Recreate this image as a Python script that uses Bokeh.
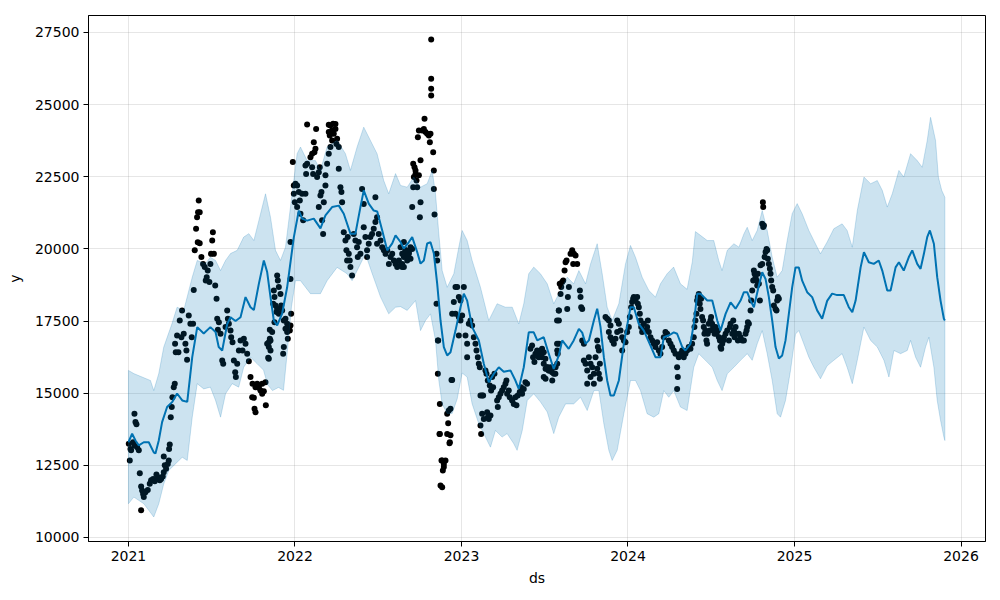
from bokeh.plotting import figure
from bokeh.models import FixedTicker, NumeralTickFormatter, Range1d
from bokeh.embed import file_html
from bokeh.resources import INLINE

# ---------------- forecast (decimal year, value) ----------------
yhat_ds = [2021.000, 2021.022, 2021.042, 2021.062, 2021.092, 2021.122, 2021.152, 2021.162, 2021.182, 2021.202,
           2021.232, 2021.262, 2021.292, 2021.323, 2021.353, 2021.383, 2021.413, 2021.452, 2021.492, 2021.523,
           2021.542, 2021.563, 2021.593, 2021.613, 2021.643, 2021.673, 2021.703, 2021.733, 2021.753, 2021.783,
           2021.813, 2021.833, 2021.853, 2021.873, 2021.893, 2021.923, 2021.953, 2021.993, 2022.023, 2022.043,
           2022.073, 2022.113, 2022.153, 2022.183, 2022.223, 2022.263, 2022.293, 2022.333, 2022.363, 2022.393,
           2022.413, 2022.443, 2022.473, 2022.494, 2022.524, 2022.554, 2022.584, 2022.604, 2022.634, 2022.653,
           2022.683, 2022.704, 2022.734, 2022.754, 2022.774, 2022.794, 2022.814, 2022.834, 2022.854, 2022.874,
           2022.894, 2022.914, 2022.934, 2022.964, 2022.994, 2023.014, 2023.034, 2023.064, 2023.104, 2023.134,
           2023.164, 2023.194, 2023.224, 2023.254, 2023.294, 2023.324, 2023.344, 2023.374, 2023.404, 2023.434,
           2023.455, 2023.494, 2023.524, 2023.554, 2023.584, 2023.605, 2023.644, 2023.674, 2023.705, 2023.725,
           2023.745, 2023.765, 2023.795, 2023.815, 2023.835, 2023.855, 2023.875, 2023.895, 2023.915, 2023.945,
           2023.975, 2024.015, 2024.035, 2024.065, 2024.095, 2024.135, 2024.165, 2024.195, 2024.215, 2024.245,
           2024.275, 2024.295, 2024.326, 2024.345, 2024.375, 2024.395, 2024.416, 2024.435, 2024.476, 2024.506,
           2024.536, 2024.556, 2024.586, 2024.616, 2024.646, 2024.676, 2024.696, 2024.716, 2024.736, 2024.756,
           2024.786, 2024.806, 2024.826, 2024.846, 2024.866, 2024.886, 2024.906, 2024.926, 2024.946, 2024.966,
           2024.986, 2025.006, 2025.026, 2025.046, 2025.076, 2025.106, 2025.136, 2025.166, 2025.196, 2025.226,
           2025.256, 2025.296, 2025.326, 2025.347, 2025.367, 2025.397, 2025.417, 2025.446, 2025.476, 2025.506,
           2025.527, 2025.557, 2025.577, 2025.607, 2025.627, 2025.656, 2025.686, 2025.707, 2025.737, 2025.757,
           2025.777, 2025.797, 2025.813, 2025.837, 2025.857, 2025.877, 2025.897, 2025.903]
yhat_y = [13300, 13600, 13360, 13190, 13300, 13300, 12950, 12910, 13360, 14000,
          14520, 14690, 14990, 14750, 14700, 16250, 17290, 17070, 17290, 17120,
          16600, 16480, 17400, 17630, 17500, 17630, 18330, 17980, 17880, 18790,
          19600, 19200, 18330, 17520, 17350, 17760, 18670, 20400, 21330, 21050,
          20980, 21050, 20710, 21160, 21450, 21500, 21220, 20530, 20530, 21450,
          22030, 21570, 21330, 21300, 20640, 19950, 20190, 20470, 20240, 20010,
          20230, 20410, 19890, 19490, 19600, 20190, 20230, 19840, 18800, 17520,
          16600, 16310, 16420, 17170, 17980, 18450, 18210, 17290, 16830, 16020,
          15380, 15670, 15900, 15740, 15790, 15440, 15150, 15900, 17110, 17110,
          16830, 16940, 16370, 15840, 16300, 16830, 16540, 16830, 17230, 17100,
          16710, 16830, 17520, 17930, 17290, 16250, 15440, 14920, 14920, 15440,
          16710, 17980, 17980, 17400, 17170, 16650, 16250, 16250, 16940, 17000,
          17110, 17060, 16600, 16480, 16710, 17400, 18450, 18450, 18210, 18210,
          17520, 17170, 17750, 18150, 17930, 18210, 18500, 18500, 18210, 17980,
          18730, 19190, 18960, 18330, 17520, 16600, 16200, 16310, 16830, 17750,
          18670, 19360, 19360, 18900, 18500, 18330, 17870, 17580, 18200, 18450,
          18400, 18400, 17980, 17810, 18210, 19360, 19890, 19540, 19480, 19600,
          19250, 18560, 18560, 19360, 19540, 19250, 19710, 19950, 19480, 19310,
          19830, 20410, 20640, 20180, 19020, 18210, 17580, 17520]

upper_ds = [2021.000, 2021.032, 2021.132, 2021.152, 2021.182, 2021.212, 2021.262, 2021.292, 2021.332, 2021.383,
            2021.413, 2021.462, 2021.492, 2021.523, 2021.553, 2021.583, 2021.613, 2021.653, 2021.692, 2021.723,
            2021.753, 2021.783, 2021.823, 2021.853, 2021.883, 2021.913, 2021.943, 2021.983, 2022.013, 2022.033,
            2022.073, 2022.123, 2022.153, 2022.193, 2022.253, 2022.303, 2022.333, 2022.373, 2022.413, 2022.453,
            2022.493, 2022.533, 2022.563, 2022.604, 2022.634, 2022.674, 2022.714, 2022.754, 2022.794, 2022.824,
            2022.844, 2022.864, 2022.884, 2022.914, 2022.954, 2022.984, 2023.004, 2023.034, 2023.064, 2023.114,
            2023.164, 2023.214, 2023.264, 2023.305, 2023.344, 2023.374, 2023.404, 2023.434, 2023.474, 2023.515,
            2023.554, 2023.595, 2023.635, 2023.674, 2023.705, 2023.745, 2023.775, 2023.815, 2023.845, 2023.875,
            2023.905, 2023.945, 2023.985, 2024.015, 2024.045, 2024.085, 2024.125, 2024.165, 2024.195, 2024.235,
            2024.274, 2024.315, 2024.355, 2024.386, 2024.405, 2024.435, 2024.476, 2024.515, 2024.545, 2024.565,
            2024.596, 2024.636, 2024.666, 2024.696, 2024.716, 2024.746, 2024.776, 2024.806, 2024.836, 2024.866,
            2024.896, 2024.926, 2024.956, 2024.986, 2025.016, 2025.046, 2025.086, 2025.116, 2025.156, 2025.196,
            2025.236, 2025.286, 2025.316, 2025.347, 2025.377, 2025.417, 2025.457, 2025.497, 2025.527, 2025.557,
            2025.587, 2025.627, 2025.656, 2025.697, 2025.737, 2025.767, 2025.797, 2025.817, 2025.847, 2025.864,
            2025.884, 2025.903]
upper_y = [15790, 15680, 15440, 15090, 15680, 16600, 17420, 17980, 17870, 19020,
           19600, 19490, 19710, 19600, 19250, 19600, 19840, 19950, 20410, 20530,
           20290, 20980, 21910, 21100, 19950, 19600, 20060, 21920, 23300, 23530,
           23060, 23060, 22720, 23530, 23760, 23300, 22720, 23530, 24220, 23760,
           23300, 22370, 21910, 22610, 22200, 22140, 22490, 22140, 22260, 22720,
           21910, 20520, 19250, 18670, 19140, 20060, 20640, 20290, 19600, 18670,
           17520, 18100, 17980, 17980, 17400, 18100, 19140, 19370, 19140, 18790,
           18100, 18560, 19020, 18790, 19250, 18790, 19480, 20180, 19140, 17980,
           17520, 18100, 19480, 20120, 19710, 19020, 18560, 18330, 18790, 19140,
           19370, 18790, 18600, 19550, 20600, 20470, 20290, 20290, 19600, 19250,
           19950, 20180, 20060, 20520, 20750, 20290, 20640, 21330, 20640, 19710,
           19020, 19250, 20290, 21220, 21570, 21220, 20640, 20290, 19830, 20240,
           20700, 20870, 20640, 20060, 21330, 22490, 22260, 22370, 22030, 21450,
           21910, 22720, 22490, 23300, 23060, 22830, 23760, 24560, 23760, 22490,
           22030, 21790]

lower_ds = [2021.000, 2021.032, 2021.092, 2021.122, 2021.152, 2021.182, 2021.212, 2021.242, 2021.282, 2021.323,
            2021.353, 2021.383, 2021.413, 2021.452, 2021.492, 2021.523, 2021.553, 2021.583, 2021.623, 2021.662,
            2021.692, 2021.733, 2021.773, 2021.811, 2021.835, 2021.865, 2021.901, 2021.931, 2021.955, 2021.979,
            2022.003, 2022.033, 2022.093, 2022.153, 2022.193, 2022.253, 2022.313, 2022.343, 2022.383, 2022.423,
            2022.464, 2022.514, 2022.563, 2022.604, 2022.634, 2022.674, 2022.724, 2022.754, 2022.784, 2022.814,
            2022.844, 2022.864, 2022.884, 2022.914, 2022.944, 2022.974, 2023.004, 2023.034, 2023.064, 2023.104,
            2023.144, 2023.174, 2023.204, 2023.244, 2023.274, 2023.314, 2023.334, 2023.365, 2023.395, 2023.434,
            2023.474, 2023.515, 2023.554, 2023.584, 2023.625, 2023.674, 2023.715, 2023.755, 2023.795, 2023.825,
            2023.855, 2023.885, 2023.905, 2023.935, 2023.975, 2024.015, 2024.045, 2024.075, 2024.115, 2024.155,
            2024.185, 2024.215, 2024.245, 2024.275, 2024.315, 2024.355, 2024.395, 2024.425, 2024.465, 2024.506,
            2024.536, 2024.565, 2024.596, 2024.636, 2024.676, 2024.716, 2024.746, 2024.776, 2024.806, 2024.836,
            2024.866, 2024.896, 2024.916, 2024.946, 2024.976, 2025.006, 2025.026, 2025.056, 2025.086, 2025.116,
            2025.156, 2025.196, 2025.236, 2025.286, 2025.316, 2025.347, 2025.377, 2025.417, 2025.457, 2025.497,
            2025.537, 2025.567, 2025.597, 2025.637, 2025.677, 2025.697, 2025.727, 2025.757, 2025.787, 2025.807,
            2025.837, 2025.857, 2025.877, 2025.897, 2025.903]
lower_y = [11170, 11400, 11170, 10940, 10710, 11170, 11860, 12320, 12550, 12780,
           12670, 14170, 15330, 15150, 15210, 14750, 14170, 14980, 15330, 15210,
           15900, 16250, 16020, 15800, 15300, 15090, 15200, 15100, 16500, 18000,
           18900, 18900, 18450, 18450, 18900, 19360, 19140, 18900, 19360, 19830,
           19140, 18330, 17750, 17980, 18000, 17870, 18210, 17170, 17520, 17750,
           16830, 15440, 14630, 14300, 14300, 14800, 15700, 15560, 14630, 13940,
           13480, 13130, 13710, 13480, 13600, 13250, 13020, 13710, 14750, 14980,
           14700, 14350, 13600, 14170, 14630, 14630, 14860, 14400, 15090, 15090,
           13940, 13020, 12670, 13020, 14290, 15440, 15440, 15090, 14290, 14170,
           14290, 15090, 14860, 15090, 14520, 14400, 15900, 16370, 16140, 15900,
           15440, 15090, 15670, 15900, 16140, 16370, 16140, 16710, 17170, 16370,
           15440, 14290, 14170, 14750, 15790, 17050, 17170, 16710, 16250, 15900,
           15500, 15950, 16140, 16370, 15900, 15330, 16140, 17290, 16830, 16600,
           16140, 15560, 16480, 16370, 16480, 16830, 16250, 15900, 16600, 16940,
           15900, 14750, 14060, 13480, 13360]

# ---------------- observations ----------------
obs21_ds = [2021.036, 2021.042, 2021.048, 2021.002, 2021.012, 2021.028, 2021.036, 2021.052, 2021.062, 2021.008,
            2021.016, 2021.068, 2021.076, 2021.082, 2021.088, 2021.092, 2021.076, 2021.102, 2021.116, 2021.128,
            2021.136, 2021.148, 2021.158, 2021.168, 2021.178, 2021.188, 2021.196, 2021.206, 2021.212, 2021.218,
            2021.212, 2021.226, 2021.236, 2021.242, 2021.244, 2021.248, 2021.254, 2021.260, 2021.264, 2021.272,
            2021.278, 2021.280, 2021.284, 2021.292, 2021.300, 2021.308, 2021.318, 2021.322, 2021.332, 2021.342,
            2021.348, 2021.352, 2021.362, 2021.372, 2021.380, 2021.388, 2021.392, 2021.398, 2021.406, 2021.412,
            2021.418, 2021.422, 2021.428, 2021.416, 2021.428, 2021.438, 2021.448, 2021.458, 2021.464, 2021.470,
            2021.476, 2021.486, 2021.492, 2021.496, 2021.503, 2021.507, 2021.513, 2021.521, 2021.529, 2021.533,
            2021.543, 2021.537, 2021.553, 2021.563, 2021.569, 2021.583, 2021.593, 2021.597, 2021.603, 2021.613,
            2021.617, 2021.625, 2021.633, 2021.641, 2021.645, 2021.653, 2021.663, 2021.673, 2021.685, 2021.693,
            2021.703, 2021.713, 2021.723, 2021.733, 2021.745, 2021.753, 2021.757, 2021.763, 2021.773, 2021.783,
            2021.793, 2021.803, 2021.813, 2021.825, 2021.763, 2021.783, 2021.803, 2021.823, 2021.743, 2021.833,
            2021.839, 2021.849, 2021.893, 2021.897, 2021.903, 2021.873, 2021.877, 2021.869, 2021.883, 2021.893,
            2021.889, 2021.913, 2021.917, 2021.923, 2021.903, 2021.973, 2021.977, 2021.933, 2021.943, 2021.953,
            2021.963, 2021.973, 2021.943, 2021.953, 2021.969, 2021.877, 2021.863, 2021.849, 2021.843, 2021.853,
            2021.843, 2021.853, 2021.843, 2021.957, 2021.933, 2021.929, 2021.973]
obs21_y = [14290, 14000, 13920, 13250, 13070, 13300, 13190, 13130, 13020, 12670,
           13020, 12230, 11770, 11630, 11510, 11400, 10940, 11570, 11650, 11860,
           11980, 12030, 11950, 12180, 12090, 11980, 12030, 12110, 12260, 12500,
           12810, 12380, 12550, 12670, 13070, 13220, 14170, 14520, 14860, 15210,
           15330, 16710, 16420, 17000, 16420, 17520, 16940, 17870, 17060, 16710,
           16480, 16160, 17690, 17410, 16940, 17410, 18580, 19950, 20700, 21100,
           21270, 21680, 21270, 20230, 20200, 19720, 19480, 19370, 18910, 19020,
           19250, 18850, 19480, 19830, 20290, 20580, 19830, 18730, 18270, 17580,
           17460, 17200, 17060, 16130, 16020, 17290, 17870, 17580, 17410, 17170,
           16940, 16770, 16130, 15730, 15560, 16020, 16480, 16830, 16480, 16890,
           16710, 16370, 16110, 15560, 15330, 14840, 14460, 14340, 15330, 15190,
           15090, 15330, 15070, 14580, 15210, 15270, 14980, 15380, 14860, 16710,
           16230, 17200, 19080, 18910, 18680, 18560, 18330, 18100, 18040, 17930,
           17810, 18440, 18040, 17870, 17750, 18960, 17750, 17520, 17580, 17410,
           17350, 17350, 17230, 17120, 17170, 17460, 17120, 16890, 16770, 16830,
           16600, 16480, 16190, 16890, 16600, 16370, 20240]

obs22_ds = [2021.987, 2021.993, 2022.003, 2022.013, 2021.993, 2021.999, 2022.023, 2022.029, 2022.043, 2022.063,
            2022.013, 2022.033, 2022.049, 2022.063, 2022.073, 2022.067, 2022.103, 2022.109, 2022.093, 2022.103,
            2022.117, 2022.123, 2022.113, 2022.133, 2022.143, 2022.149, 2022.153, 2022.159, 2022.143, 2022.173,
            2022.163, 2022.169, 2022.183, 2022.183, 2022.193, 2022.203, 2022.213, 2022.223, 2022.209, 2022.203,
            2022.213, 2022.223, 2022.233, 2022.243, 2022.243, 2022.253, 2022.263, 2022.249, 2022.263, 2022.273,
            2022.279, 2022.283, 2022.073, 2022.127, 2022.203, 2022.229,
            2022.293, 2022.303, 2022.309, 2022.317, 2022.323, 2022.329, 2022.313, 2022.333, 2022.343, 2022.353,
            2022.363, 2022.373, 2022.383, 2022.393, 2022.377, 2022.403, 2022.413, 2022.413, 2022.423, 2022.433,
            2022.433, 2022.443, 2022.453, 2022.463, 2022.473, 2022.483, 2022.493, 2022.483, 2022.493, 2022.503,
            2022.514, 2022.524, 2022.534, 2022.544, 2022.554, 2022.564, 2022.574, 2022.584, 2022.594, 2022.604,
            2022.614, 2022.624, 2022.634, 2022.644, 2022.654, 2022.664, 2022.674, 2022.684, 2022.694, 2022.654,
            2022.634, 2022.644, 2022.654, 2022.664, 2022.674, 2022.684, 2022.694, 2022.704, 2022.674, 2022.654,
            2022.644]
obs22_y = [23010, 22200, 22260, 22200, 21910, 21620, 21970, 21680, 21910, 21910,
           21450, 21220, 20990, 22890, 22950, 22600, 22830, 22600, 23180, 23300,
           23350, 23470, 23700, 22490, 22660, 22830, 21850, 21970, 21450, 21620,
           20990, 20520, 22200, 22550, 22950, 23300, 23530, 23760, 23930, 24050,
           24280, 24100, 23990, 24330, 24160, 23820, 23530, 23640, 22780, 22140,
           21970, 21620, 24310, 24160, 24300, 24340,
           20580, 20290, 19950, 20410, 19830, 19600, 19600, 19370, 19080, 20520,
           20290, 20060, 20240, 19830, 19720, 22080, 21560, 20750, 20410, 19950,
           19720, 20180, 20410, 20520, 20700, 20930, 21100, 21790, 20180, 20520,
           20290, 20060, 19950, 19830, 19950, 19480, 19720, 19830, 19600, 19480,
           19370, 19600, 19430, 19370, 19830, 19950, 19720, 19830, 19660, 20240,
           20060, 19830, 19720, 19950, 19770, 19890, 20060, 20000, 19600, 19370,
           19480]

obs22b_ds = [2022.704, 2022.710, 2022.718, 2022.724, 2022.730, 2022.734, 2022.714, 2022.738, 2022.744, 2022.750,
             2022.754, 2022.724, 2022.744, 2022.710, 2022.754, 2022.764, 2022.774, 2022.784, 2022.794, 2022.804,
             2022.778, 2022.810, 2022.830, 2022.814, 2022.818, 2022.818, 2022.818, 2022.818, 2022.834, 2022.834,
             2022.838, 2022.850, 2022.854, 2022.850, 2022.858, 2022.858, 2022.870, 2022.870, 2022.884, 2022.894,
             2022.904, 2022.914, 2022.924, 2022.934, 2022.914, 2022.934, 2022.930, 2022.944, 2022.874, 2022.884,
             2022.888, 2022.894, 2022.880, 2022.928, 2022.868, 2022.920, 2022.860, 2022.940]
obs22b_y = [21450, 22950, 22830, 22600, 22370, 22140, 22490, 23870, 24100, 21100,
            23070, 22720, 22550, 22140, 21620, 24100, 24160, 24050, 23990, 23930,
            24510, 23700, 23350, 23990, 25900, 25550, 25320, 27260, 22720, 22080,
            21190, 19830, 19600, 18100, 16830, 15670, 14630, 13590, 12670, 12550,
            12670, 14290, 14400, 14460, 13590, 13540, 13300, 15460, 11800, 11740,
            12320, 12440, 12670, 13270, 13590, 13960, 16830, 15460]

obs23_ds = [2022.964, 2022.974, 2022.984, 2022.994, 2023.014, 2022.954, 2022.964, 2022.984, 2023.004, 2022.994,
            2022.944, 2022.984, 2023.024, 2023.034, 2023.034, 2023.044, 2023.054, 2023.064, 2023.074, 2023.084,
            2023.090, 2023.098, 2023.104, 2023.110, 2023.114, 2023.124, 2023.130, 2023.124, 2023.134, 2023.154,
            2023.158, 2023.164, 2023.174, 2023.114, 2023.118, 2023.144, 2023.150, 2023.158, 2023.170, 2023.178,
            2023.190, 2023.184, 2023.198, 2023.214, 2023.218, 2023.224, 2023.234, 2023.244, 2023.254, 2023.264,
            2023.270, 2023.274, 2023.284, 2023.290, 2023.304, 2023.314, 2023.324, 2023.330, 2023.338, 2023.350,
            2023.358, 2023.364, 2023.374, 2023.384, 2023.394,
            2023.414, 2023.424, 2023.430, 2023.438, 2023.444, 2023.454, 2023.464, 2023.474, 2023.484, 2023.494,
            2023.504, 2023.514, 2023.510, 2023.524, 2023.534, 2023.544, 2023.554, 2023.564, 2023.574, 2023.578,
            2023.584, 2023.590, 2023.574]
obs23_y = [18680, 18680, 18330, 18210, 18680, 18160, 17750, 17640, 17690, 17520,
           17750, 17000, 17000, 16710, 16250, 17410, 17520, 17350, 16940, 16710,
           16480, 16250, 16020, 15900, 14920, 14920, 14920, 14290, 14110, 14340,
           14170, 14110, 14230, 13880, 13590, 15790, 15670, 15440, 15270, 15090,
           15210, 15560, 15670, 14750, 14520, 14860, 14980, 15090, 15210, 15330,
           15440, 14980, 15090, 14860, 14750, 14630, 14860, 14580, 14920, 15040,
           15210, 14980, 15150, 15380, 15330,
           16540, 16650, 16250, 16080, 16370, 16480, 16250, 16370, 16540, 16420,
           16190, 15900, 15850, 15790, 15900, 15730, 15900, 15670, 16710, 16370,
           17870, 18790, 17520]

obs23b_ds = [2023.474, 2023.484, 2023.494, 2023.505, 2023.515, 2023.525, 2023.494, 2023.505, 2023.545, 2023.555,
             2023.565, 2023.575, 2023.575, 2023.585, 2023.585, 2023.585, 2023.595, 2023.599, 2023.605, 2023.611,
             2023.619, 2023.625, 2023.631, 2023.639, 2023.645, 2023.635, 2023.655, 2023.665, 2023.675, 2023.685,
             2023.695, 2023.671, 2023.711, 2023.715, 2023.719, 2023.725, 2023.725, 2023.735, 2023.735, 2023.745,
             2023.755, 2023.755, 2023.765, 2023.775, 2023.785, 2023.795, 2023.775, 2023.795, 2023.805, 2023.815,
             2023.819, 2023.825, 2023.831, 2023.831, 2023.815, 2023.825,
             2023.865, 2023.875, 2023.885, 2023.895, 2023.885, 2023.895, 2023.905, 2023.915, 2023.925, 2023.935,
             2023.935, 2023.945, 2023.955, 2023.965, 2023.965, 2023.975, 2023.985, 2023.995, 2024.005, 2024.011,
             2024.019, 2024.025, 2024.031, 2024.035, 2024.045, 2024.055, 2024.059, 2024.065, 2024.071, 2024.075,
             2024.079, 2024.085, 2024.095, 2024.105, 2024.115, 2024.119, 2024.125, 2024.135, 2024.145, 2024.155,
             2024.165, 2024.175, 2024.185, 2024.195, 2024.205, 2024.215, 2024.225, 2024.235, 2024.245, 2024.255,
             2024.265, 2024.275, 2024.285, 2024.295, 2024.299, 2024.295, 2024.305, 2024.315, 2024.325, 2024.335,
             2024.345, 2024.355, 2024.365, 2024.375, 2024.385, 2024.395]
obs23b_y = [16480, 16250, 16020, 15850, 15900, 15790, 15560, 15500, 15440, 15670,
            15900, 16020, 16480, 16710, 17520, 17870, 18440, 18680, 18850, 18910,
            19250, 19540, 19600, 18330, 18680, 17920, 19830, 19950, 19830, 19770,
            19480, 19480, 18560, 18330, 17980, 17920, 16830, 16710, 16130, 16020,
            15790, 15330, 16250, 16020, 15900, 15670, 15560, 15330, 16250, 16830,
            16600, 16480, 16020, 15500, 15850, 15670,
            17640, 17580, 17520, 17350, 17120, 16940, 16830, 16710, 16890, 17120,
            17520, 17410, 17170, 16940, 16480, 16830, 16770, 17120, 17290, 17640,
            17980, 18160, 18270, 18330, 18210, 18330, 18100, 17980, 17750, 17520,
            17290, 17120, 17410, 17170, 17290, 17520, 17120, 16940, 16830, 16710,
            16600, 16770, 16480, 16370, 16600, 16940, 17120, 17060, 16830, 16710,
            16600, 16480, 16370, 15900, 15560, 15150, 16250, 16370, 16480, 16250,
            16370, 16480, 16600, 16540, 16710, 16940]

obs24_ds = [2024.399, 2024.405, 2024.411, 2024.415, 2024.419, 2024.425, 2024.431, 2024.435, 2024.439, 2024.445,
            2024.451, 2024.455, 2024.459, 2024.465, 2024.471, 2024.475, 2024.479, 2024.485, 2024.491, 2024.495,
            2024.499, 2024.505, 2024.511, 2024.515, 2024.520, 2024.526, 2024.532, 2024.540, 2024.546, 2024.552,
            2024.556, 2024.560, 2024.566, 2024.572, 2024.576, 2024.586, 2024.596, 2024.606, 2024.612, 2024.616,
            2024.626, 2024.632, 2024.636, 2024.640, 2024.646, 2024.652, 2024.660, 2024.666, 2024.676, 2024.686,
            2024.696, 2024.706, 2024.712, 2024.716, 2024.720, 2024.726, 2024.736, 2024.740, 2024.746, 2024.752,
            2024.756, 2024.760, 2024.766, 2024.772, 2024.776, 2024.780, 2024.786, 2024.792, 2024.796, 2024.806,
            2024.812, 2024.816, 2024.806, 2024.812, 2024.810, 2024.820, 2024.826, 2024.832, 2024.836, 2024.840,
            2024.846, 2024.852, 2024.856, 2024.860, 2024.866, 2024.872, 2024.876, 2024.886, 2024.896, 2024.900,
            2024.906, 2024.892]
obs24_y = [17290, 17520, 17750, 18210, 18330, 18440, 18100, 17920, 18270, 17640,
           17520, 17290, 17060, 17170, 16830, 16710, 17060, 17410, 17170, 17520,
           17640, 17410, 17290, 17170, 17060, 17290, 17060, 17170, 16940, 16830,
           16600, 16540, 16710, 16830, 16940, 17060, 17170, 16830, 17290, 17410,
           17060, 17520, 17170, 16940, 17290, 17060, 16830, 17060, 16940, 16830,
           16830, 17060, 17170, 17290, 17460, 17410, 17870, 18210, 18560, 18910,
           19250, 19140, 19020, 18910, 18730, 19140, 18790, 18210, 19430, 19480,
           20760, 20810, 20870, 21450, 21620, 19720, 19890, 20000, 19950, 19660,
           19480, 19310, 19140, 18910, 18680, 18560, 18040, 17920, 18210, 18330,
           18270, 17870]

x_ticks = [2021, 2022, 2023, 2024, 2025, 2026]
y_ticks = [10000, 12500, 15000, 17500, 20000, 22500, 25000, 27500]

obs_ds = obs21_ds + obs22_ds + obs22b_ds + obs23_ds + obs23b_ds + obs24_ds
obs_y = obs21_y + obs22_y + obs22b_y + obs23_y + obs23b_y + obs24_y

BLUE = "#0072B2"
FONT = "DejaVu Sans"

p = figure(frame_width=897, frame_height=526,
           x_range=Range1d(2020.76, 2026.147), y_range=Range1d(9861, 28089),
           output_backend="svg", toolbar_location=None,
           min_border_left=88, min_border_top=15, min_border_right=15, min_border_bottom=59,
           background_fill_color="white", border_fill_color="white")

p.scatter(obs_ds, obs_y, size=6, color="black", line_color=None)
p.line(yhat_ds, yhat_y, line_color=BLUE, line_width=2)
band_x = upper_ds + lower_ds[::-1]
band_y = upper_y + lower_y[::-1]
p.patch(band_x, band_y, fill_color=BLUE, fill_alpha=0.2, line_color=BLUE, line_alpha=0.2, line_width=1)

p.outline_line_color = "black"
p.outline_line_width = 1
p.outline_line_alpha = 1

for ax in (p.xaxis[0], p.yaxis[0]):
    ax.axis_line_color = "black"
    ax.major_tick_line_color = "black"
    ax.major_tick_out = 5
    ax.major_tick_in = 0
    ax.minor_tick_line_color = None
    ax.major_label_text_font = FONT
    ax.major_label_text_font_size = "14px"
    ax.major_label_text_color = "black"
    ax.axis_label_text_font = FONT
    ax.axis_label_text_font_size = "14px"
    ax.axis_label_text_font_style = "normal"
    ax.axis_label_text_color = "black"
    ax.formatter = NumeralTickFormatter(format="0")

p.xaxis[0].ticker = FixedTicker(ticks=x_ticks)
p.yaxis[0].ticker = FixedTicker(ticks=y_ticks)
p.xaxis[0].axis_label = "ds"
p.yaxis[0].axis_label = "y"
p.xaxis[0].major_label_standoff = 4
p.yaxis[0].major_label_standoff = 4
p.xaxis[0].axis_label_standoff = 6
p.yaxis[0].axis_label_standoff = 9

p.grid.grid_line_color = "gray"
p.grid.grid_line_alpha = 0.2
p.grid.grid_line_width = 1

open("out.html", "w").write(file_html(p, INLINE))
